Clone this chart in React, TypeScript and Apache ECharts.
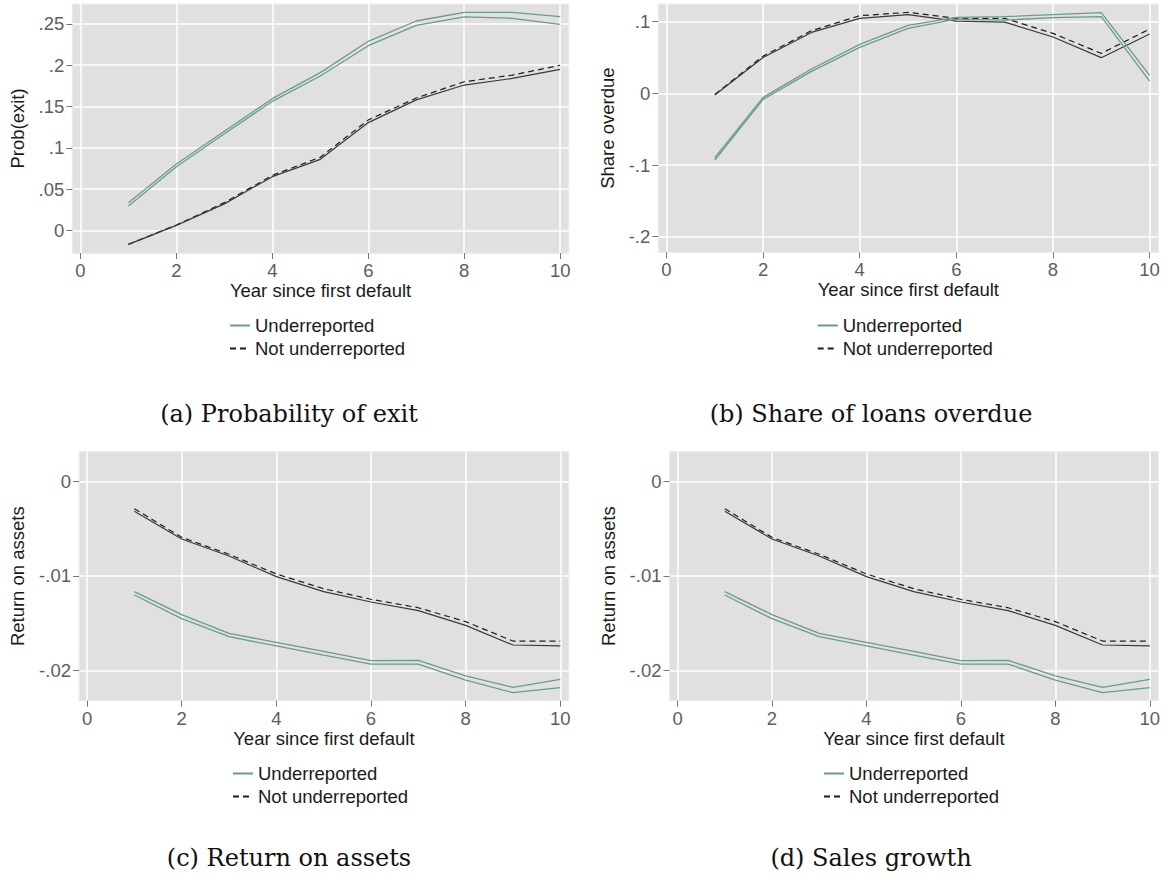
import React, { useEffect, useRef } from "react";
import * as echarts from "echarts";

// ---------- data ----------
const years = [1, 2, 3, 4, 5, 6, 7, 8, 9, 10];
const xTicks = [0, 2, 4, 6, 8, 10];

// (a) Probability of exit
const exitTicks = [0, 0.05, 0.1, 0.15, 0.2, 0.25];
const exitUnderHi = [0.0335, 0.0804, 0.12, 0.1595, 0.191, 0.229, 0.2536, 0.2641, 0.2641, 0.2589];
const exitUnderLo = [0.0295, 0.0771, 0.117, 0.1563, 0.187, 0.2237, 0.2484, 0.2585, 0.2569, 0.2496];
const exitNotDash = [-0.017, 0.0065, 0.0335, 0.0666, 0.0885, 0.1337, 0.1603, 0.18, 0.188, 0.2];
const exitNotSolid = [-0.017, 0.006, 0.032, 0.065, 0.086, 0.1305, 0.158, 0.176, 0.184, 0.195];

// (b) Share of loans overdue
const overdueTicks = [-0.2, -0.1, 0, 0.1];
const overdueUnderHi = [-0.0898, -0.0056, 0.034, 0.0684, 0.0949, 0.106, 0.107, 0.1098, 0.1126, 0.0251];
const overdueUnderLo = [-0.093, -0.0084, 0.0307, 0.0642, 0.0907, 0.1037, 0.1023, 0.1056, 0.107, 0.0172];
const overdueNotDash = [-0.0014, 0.052, 0.0874, 0.1084, 0.113, 0.1047, 0.1047, 0.0837, 0.0558, 0.0898];
const overdueNotSolid = [-0.0023, 0.05, 0.085, 0.1047, 0.11, 0.1009, 0.0995, 0.0786, 0.0498, 0.0828];

// (c) Return on assets
const roaTicks = [-0.02, -0.01, 0];
const roaUnderHi = [-0.01165, -0.01408, -0.01606, -0.01701, -0.01796, -0.01894, -0.01891, -0.02056, -0.02176, -0.02092];
const roaUnderLo = [-0.01201, -0.01451, -0.01641, -0.01739, -0.01835, -0.0193, -0.0193, -0.02099, -0.02232, -0.0218];
const roaNotDash = [-0.00289, -0.00592, -0.00771, -0.00979, -0.01134, -0.01246, -0.01335, -0.01482, -0.01687, -0.01687];
const roaNotSolid = [-0.00317, -0.00609, -0.00789, -0.01007, -0.01165, -0.01275, -0.01366, -0.01521, -0.01729, -0.01739];

// (d) Sales growth (plotted values as shown)
const salesTicks = [-0.02, -0.01, 0];
const salesUnderHi = [-0.01165, -0.01408, -0.01606, -0.01701, -0.01796, -0.01894, -0.01891, -0.02056, -0.02176, -0.02092];
const salesUnderLo = [-0.01201, -0.01451, -0.01641, -0.01739, -0.01835, -0.0193, -0.0193, -0.02099, -0.02232, -0.0218];
const salesNotDash = [-0.00289, -0.00592, -0.00771, -0.00979, -0.01134, -0.01246, -0.01335, -0.01482, -0.01687, -0.01687];
const salesNotSolid = [-0.00317, -0.00609, -0.00789, -0.01007, -0.01165, -0.01275, -0.01366, -0.01521, -0.01729, -0.01739];

const seriesNames = ["Underreported", "Not underreported"];
const xTitle = "Year since first default";
const captions = [
  "(a) Probability of exit",
  "(b) Share of loans overdue",
  "(c) Return on assets",
  "(d) Sales growth",
];

// ---------- style ----------
const SANS = "'Liberation Sans', Arial, Helvetica, sans-serif";
const SERIF = "'DejaVu Serif', serif";
const GREEN = "#6b9b89";
const BG = "#e0e0e0";

const fmt = (v: number) => {
  if (Math.abs(v) < 1e-12) return "0";
  const s = String(Math.abs(v)).replace(/^0/, "");
  return (v < 0 ? "-" : "") + s;
};

type Panel = {
  grid: { left: number; top: number; width: number; height: number };
  yMin: number;
  yMax: number;
  yTicks: number[];
  yTitle: string;
  yGap: number;
  legend: { left: number; top: number };
  underHi: number[];
  underLo: number[];
  notDash: number[];
  notSolid: number[];
};

const panels: Panel[] = [
  {
    grid: { left: 72.3, top: 4, width: 496.5, height: 249 },
    yMin: -0.0275, yMax: 0.2742, yTicks: exitTicks, yTitle: "Prob(exit)", yGap: 45,
    legend: { left: 224, top: 311 },
    underHi: exitUnderHi, underLo: exitUnderLo, notDash: exitNotDash, notSolid: exitNotSolid,
  },
  {
    grid: { left: 658.3, top: 4, width: 500, height: 248.3 },
    yMin: -0.2218, yMax: 0.1247, yTicks: overdueTicks, yTitle: "Share overdue", yGap: 41,
    legend: { left: 811.7, top: 311 },
    underHi: overdueUnderHi, underLo: overdueUnderLo, notDash: overdueNotDash, notSolid: overdueNotSolid,
  },
  {
    grid: { left: 79, top: 451.7, width: 489.8, height: 249 },
    yMin: -0.02317, yMax: 0.003126, yTicks: roaTicks, yTitle: "Return on assets", yGap: 51.6,
    legend: { left: 227, top: 759 },
    underHi: roaUnderHi, underLo: roaUnderLo, notDash: roaNotDash, notSolid: roaNotSolid,
  },
  {
    grid: { left: 669.5, top: 451.7, width: 488.8, height: 249 },
    yMin: -0.02317, yMax: 0.003126, yTicks: salesTicks, yTitle: "Return on assets", yGap: 51.8,
    legend: { left: 818, top: 759 },
    underHi: salesUnderHi, underLo: salesUnderLo, notDash: salesNotDash, notSolid: salesNotSolid,
  },
];

const captionPos = [
  { x: 289, y: 414 },
  { x: 871, y: 414 },
  { x: 289, y: 858 },
  { x: 871, y: 858 },
];

function buildOption() {
  const grid: any[] = [];
  const xAxis: any[] = [];
  const yAxis: any[] = [];
  const series: any[] = [];
  const legend: any[] = [];
  panels.forEach((p, i) => {
    grid.push({
      left: p.grid.left,
      top: p.grid.top,
      width: p.grid.width,
      height: p.grid.height,
      show: true,
      backgroundColor: BG,
      borderColor: "#ebebeb",
      borderWidth: 1,
      containLabel: false,
    });
    xAxis.push({
      type: "value",
      gridIndex: i,
      position: "bottom",
      min: -0.17,
      max: 10.18,
      name: xTitle,
      nameLocation: "middle",
      nameGap: 24,
      nameTextStyle: { fontFamily: SANS, fontSize: 18.5, color: "#1a1a1a" },
      axisLine: { show: true, onZero: false, lineStyle: { color: "#ebebeb", width: 1 } },
      axisTick: { show: true, inside: false, length: 6, customValues: xTicks, lineStyle: { color: "#777", width: 1 } },
      axisLabel: {
        customValues: xTicks,
        margin: 8,
        fontFamily: SANS,
        fontSize: 18.5,
        color: "#5e5e5e",
        formatter: (v: number) => fmt(v),
      },
      splitLine: { show: true, lineStyle: { color: "#ffffff", width: 1.5 } },
    });
    yAxis.push({
      type: "value",
      gridIndex: i,
      position: "left",
      min: p.yMin,
      max: p.yMax,
      name: p.yTitle,
      nameLocation: "middle",
      nameGap: p.yGap,
      nameRotate: 90,
      nameTextStyle: { fontFamily: SANS, fontSize: 18.5, color: "#1a1a1a" },
      axisLine: { show: true, onZero: false, lineStyle: { color: "#ebebeb", width: 1 } },
      axisTick: { show: true, inside: false, length: 6, customValues: p.yTicks, lineStyle: { color: "#777", width: 1 } },
      axisLabel: {
        customValues: p.yTicks,
        margin: 8,
        fontFamily: SANS,
        fontSize: 18.5,
        color: "#5e5e5e",
        formatter: (v: number) => fmt(v),
      },
      splitLine: { show: true, lineStyle: { color: "#ffffff", width: 1.5 } },
    });
    const mk = (name: string, vals: number[], color: string, type: any, width: number) => ({
      type: "line",
      name,
      xAxisIndex: i,
      yAxisIndex: i,
      data: years.map((y, k) => [y, vals[k]]),
      symbol: "none",
      showSymbol: false,
      silent: true,
      lineStyle: { color, width, type },
      itemStyle: { color },
      clip: false,
    });
    series.push(mk(seriesNames[1], p.notDash, "#1e1e1e", [6, 4], 1.2));
    series.push(mk(seriesNames[1], p.notSolid, "#3a3a3a", "solid", 1.2));
    series.push(mk(seriesNames[0], p.underHi, GREEN, "solid", 1.3));
    series.push(mk(seriesNames[0], p.underLo, GREEN, "solid", 1.3));
    legend.push({
      data: seriesNames,
      orient: "vertical",
      left: p.legend.left,
      top: p.legend.top,
      itemWidth: 20,
      itemHeight: 14,
      itemGap: 4,
      selectedMode: false,
      itemStyle: { opacity: 0, borderWidth: 0 },
      textStyle: { fontFamily: SANS, fontSize: 18.5, color: "#1a1a1a" },
    });
  });

  const graphic = captions.map((c, i) => ({
    type: "text",
    x: captionPos[i].x,
    y: captionPos[i].y,
    style: {
      text: c,
      fontFamily: SERIF,
      fontSize: 24,
      fill: "#111",
      textAlign: "center",
      textVerticalAlign: "middle",
    },
  }));

  return {
    animation: false,
    backgroundColor: "#ffffff",
    grid,
    xAxis,
    yAxis,
    series,
    legend,
    graphic,
  };
}

export default function App() {
  const ref = useRef<HTMLDivElement>(null);
  useEffect(() => {
    if (!ref.current) return;
    const chart = echarts.init(ref.current, undefined, { renderer: "svg" });
    chart.setOption(buildOption() as any);
    return () => chart.dispose();
  }, []);
  return (
    <div
      ref={ref}
      style={{ position: "fixed", left: 0, top: 0, width: 1168, height: 882, background: "#fff" }}
    />
  );
}
